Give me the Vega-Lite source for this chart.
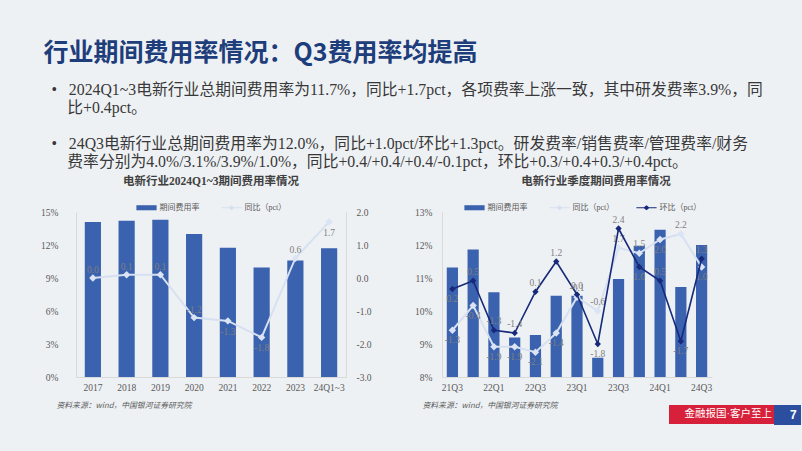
{
  "$schema": "https://vega.github.io/schema/vega-lite/v6.json",
  "background": "#eef1f4",
  "padding": {"left": 40, "top": 41, "right": 10, "bottom": 30},
  "title": {
    "text": "行业期间费用率情况：Q3费用率均提高",
    "subtitle": [
      "\u200b\u00a0\u00a0•\u00a0\u00a0\u00a02024Q1~3电新行业总期间费用率为11.7%，同比+1.7pct，各项费率上涨一致，其中研发费率3.9%，同",
      "\u200b\u00a0\u00a0\u00a0\u00a0\u00a0\u00a0比+0.4pct。",
      "\u200b",
      "\u200b\u00a0\u00a0•\u00a0\u00a0\u00a024Q3电新行业总期间费用率为12.0%，同比+1.0pct/环比+1.3pct。研发费率/销售费率/管理费率/财务",
      "\u200b\u00a0\u00a0\u00a0\u00a0\u00a0\u00a0费率分别为4.0%/3.1%/3.9%/1.0%，同比+0.4/+0.4/+0.4/-0.1pct，环比+0.3/+0.4+0.3/+0.4pct。"
    ],
    "anchor": "start",
    "dx": 3,
    "font": "Noto Sans CJK SC",
    "fontSize": 25,
    "fontWeight": "bold",
    "color": "#1e3d7b",
    "subtitleFont": "Liberation Serif, Noto Sans CJK SC",
    "subtitleFontSize": 15.8,
    "subtitleColor": "#383838",
    "subtitleLineHeight": 18,
    "subtitlePadding": 16.5,
    "offset": 6
  },
  "spacing": 42,
  "resolve": {"scale": {"color": "independent", "shape": "independent", "fill": "independent", "stroke": "independent"}},
  "hconcat": [
    {
      "width": 270,
      "height": 165,
      "title": {"text": "电新行业2024Q1~3期间费用率情况", "font": "Liberation Serif, Noto Sans CJK SC", "fontSize": 11.5, "fontWeight": "bold", "color": "#404040", "offset": 14},
      "data": {"values": [
        {"year": "2017", "rate": 14.1, "yoy": 0.0},
        {"year": "2018", "rate": 14.2, "yoy": 0.1},
        {"year": "2019", "rate": 14.3, "yoy": 0.1},
        {"year": "2020", "rate": 13.0, "yoy": -1.2},
        {"year": "2021", "rate": 11.75, "yoy": -1.3},
        {"year": "2022", "rate": 9.95, "yoy": -1.8},
        {"year": "2023", "rate": 10.6, "yoy": 0.6},
        {"year": "24Q1~3", "rate": 11.7, "yoy": 1.7}
      ]},
      "encoding": {
        "x": {"field": "year", "type": "ordinal", "sort": null,
          "scale": {"paddingInner": 0.52, "paddingOuter": 0.26},
          "axis": {"title": "资料来源：wind，中国银河证券研究院", "titleFont": "Noto Sans CJK SC", "titleFontStyle": "italic", "titleFontWeight": "normal", "titleFontSize": 7.8, "titleColor": "#595959", "titleAnchor": "start", "titleAlign": "left", "titleX": -20, "titleY": 28, "titleBaseline": "middle", "labelAngle": 0, "labelPadding": 5}}
      },
      "layer": [
        {
          "mark": {"type": "bar", "color": "#3a62ae"},
          "encoding": {
            "y": {"field": "rate", "type": "quantitative", "scale": {"domain": [0, 15]},
              "axis": {"title": null, "values": [0, 3, 6, 9, 12, 15], "labelExpr": "datum.value + '%'", "labelPadding": 18, "orient": "left"}}
          }
        },
        {
          "encoding": {
            "y": {"field": "yoy", "type": "quantitative", "scale": {"domain": [-3, 2]},
              "axis": {"title": null, "orient": "right", "values": [-3, -2, -1, 0, 1, 2], "format": ".1f", "labelPadding": 10}}
          },
          "layer": [
            {"mark": {"type": "line", "color": "#d6e0f1", "strokeWidth": 2}},
            {"mark": {"type": "point", "shape": "diamond", "filled": true, "color": "#dbe4f4", "size": 55, "opacity": 1}},
            {"transform": [{"filter": {"field": "year", "oneOf": ["2017", "2018", "2019", "2020", "2023"]}}],
              "mark": {"type": "text", "dy": -8, "fontSize": 9.5, "color": "#808080", "font": "Liberation Serif"},
              "encoding": {"text": {"field": "yoy", "type": "quantitative", "format": ".1f"}}},
            {"transform": [{"filter": {"field": "year", "oneOf": ["2021", "2022", "24Q1~3"]}}],
              "mark": {"type": "text", "dy": 11, "fontSize": 9.5, "color": "#808080", "font": "Liberation Serif"},
              "encoding": {"text": {"field": "yoy", "type": "quantitative", "format": ".1f"}}},
            {"mark": {"type": "point", "filled": true, "opacity": 0},
              "encoding": {
                "color": {"datum": "期间费用率", "type": "nominal",
                  "scale": {"domain": ["期间费用率", "同比（pct）"], "range": ["#3a62ae", "#d6e0f1"]},
                  "legend": {"title": null, "orient": "none", "legendX": 64, "legendY": -11, "direction": "horizontal", "symbolSize": 160, "labelOffset": 6.5, "columnPadding": 21, "symbolOpacity": 1, "symbolStrokeWidth": 0}},
                "shape": {"datum": "期间费用率", "type": "nominal",
                  "scale": {"domain": ["期间费用率", "同比（pct）"], "range": ["M-1.6,-0.4H1.6V0.4H-1.6Z", "M-1.6,-0.08H-0.4L0,-0.4L0.4,-0.08H1.6V0.08H0.4L0,0.4L-0.4,0.08H-1.6Z"]},
                  "legend": {"title": null, "orient": "none", "legendX": 64, "legendY": -11, "direction": "horizontal", "symbolSize": 160, "labelOffset": 6.5, "columnPadding": 21, "symbolOpacity": 1, "symbolStrokeWidth": 0}}
              }}
          ]
        }
      ],
      "resolve": {"scale": {"y": "independent"}}
    },
    {
      "width": 270,
      "height": 165,
      "title": {"text": "电新行业季度期间费用率情况", "font": "Liberation Serif, Noto Sans CJK SC", "fontSize": 11.5, "fontWeight": "bold", "color": "#404040", "offset": 14, "dx": 19},
      "data": {"values": [
        {"q": "21Q3", "rate": 11.32, "yoy": -1.3, "qoq": 0.2},
        {"q": "21Q4", "rate": 11.86, "yoy": -0.4, "qoq": 0.5},
        {"q": "22Q1", "rate": 10.57, "yoy": -1.9, "qoq": -1.3},
        {"q": "22Q2", "rate": 9.2, "yoy": -1.9, "qoq": -1.4},
        {"q": "22Q3", "rate": 9.27, "yoy": -2.1, "qoq": 0.1},
        {"q": "22Q4", "rate": 10.46, "yoy": -1.4, "qoq": 1.2},
        {"q": "23Q1", "rate": 10.46, "yoy": -0.1, "qoq": 0.0},
        {"q": "23Q2", "rate": 8.58, "yoy": -0.6, "qoq": -1.8},
        {"q": "23Q3", "rate": 10.97, "yoy": 1.7, "qoq": 2.4},
        {"q": "23Q4", "rate": 11.98, "yoy": 1.5, "qoq": 1.0},
        {"q": "24Q1", "rate": 12.46, "yoy": 2.0, "qoq": 0.5},
        {"q": "24Q2", "rate": 10.73, "yoy": 2.2, "qoq": -1.7},
        {"q": "24Q3", "rate": 12.0, "yoy": 1.0, "qoq": 1.3}
      ]},
      "encoding": {
        "x": {"field": "q", "type": "ordinal", "sort": null,
          "scale": {"paddingInner": 0.46, "paddingOuter": 0.23},
          "axis": {"title": "资料来源：wind，中国银河证券研究院", "titleFont": "Noto Sans CJK SC", "titleFontStyle": "italic", "titleFontWeight": "normal", "titleFontSize": 7.8, "titleColor": "#595959", "titleAnchor": "start", "titleAlign": "left", "titleX": -20, "titleY": 28, "titleBaseline": "middle", "labelAngle": 0, "labelPadding": 5,
            "values": ["21Q3", "22Q1", "22Q3", "23Q1", "23Q3", "24Q1", "24Q3"]}}
      },
      "layer": [
        {
          "mark": {"type": "bar", "color": "#3a62ae", "clip": true},
          "encoding": {
            "y": {"field": "rate", "type": "quantitative", "scale": {"domain": [8, 13], "zero": false},
              "axis": {"title": null, "values": [8, 9, 10, 11, 12, 13], "labelExpr": "datum.value + '%'", "labelPadding": 10, "orient": "left"}}
          }
        },
        {
          "layer": [
            {"mark": {"type": "line", "color": "#d6e0f1", "strokeWidth": 2},
              "encoding": {"y": {"field": "yoy", "type": "quantitative", "scale": {"domain": [-3, 3]},
                "axis": {"title": null, "orient": "right", "values": [-3, -1.8, -0.6, 0.6, 1.8, 3], "format": ".1f", "labelPadding": 9}}}},
            {"mark": {"type": "point", "shape": "diamond", "filled": true, "color": "#dbe4f4", "size": 55, "opacity": 1},
              "encoding": {"y": {"field": "yoy", "type": "quantitative", "axis": null}}},
            {"transform": [{"filter": {"field": "q", "oneOf": ["23Q1", "23Q2", "23Q3", "23Q4", "24Q2"]}}],
              "mark": {"type": "text", "dy": -9, "fontSize": 9.5, "color": "#808080", "font": "Liberation Serif"},
              "encoding": {"y": {"field": "yoy", "type": "quantitative", "axis": null}, "text": {"field": "yoy", "type": "quantitative", "format": ".1f"}}},
            {"transform": [{"filter": {"field": "q", "oneOf": ["21Q3", "21Q4", "22Q1", "22Q2", "22Q3", "22Q4", "24Q1", "24Q3"]}}],
              "mark": {"type": "text", "dy": 10, "fontSize": 9.5, "color": "#808080", "font": "Liberation Serif"},
              "encoding": {"y": {"field": "yoy", "type": "quantitative", "axis": null}, "text": {"field": "yoy", "type": "quantitative", "format": ".1f"}}},
            {"mark": {"type": "line", "color": "#16297a", "strokeWidth": 1.6},
              "encoding": {"y": {"field": "qoq", "type": "quantitative", "axis": null}}},
            {"mark": {"type": "point", "shape": "diamond", "filled": true, "color": "#16297a", "size": 40, "opacity": 1},
              "encoding": {"y": {"field": "qoq", "type": "quantitative", "axis": null}}},
            {"transform": [{"filter": {"field": "q", "oneOf": ["21Q4", "22Q1", "22Q2", "22Q3", "22Q4", "23Q1", "23Q3", "24Q1", "24Q3"]}}],
              "mark": {"type": "text", "dy": -9, "fontSize": 9.5, "color": "#808080", "font": "Liberation Serif"},
              "encoding": {"y": {"field": "qoq", "type": "quantitative", "axis": null}, "text": {"field": "qoq", "type": "quantitative", "format": ".1f"}}},
            {"transform": [{"filter": {"field": "q", "oneOf": ["21Q3", "23Q2", "23Q4", "24Q2"]}}],
              "mark": {"type": "text", "dy": 10, "fontSize": 9.5, "color": "#808080", "font": "Liberation Serif"},
              "encoding": {"y": {"field": "qoq", "type": "quantitative", "axis": null}, "text": {"field": "qoq", "type": "quantitative", "format": ".1f"}}},
            {"mark": {"type": "point", "filled": true, "opacity": 0},
              "encoding": {
                "y": {"field": "yoy", "type": "quantitative", "axis": null},
                "color": {"datum": "期间费用率", "type": "nominal",
                  "scale": {"domain": ["期间费用率", "同比（pct）", "环比（pct）"], "range": ["#3a62ae", "#d6e0f1", "#16297a"]},
                  "legend": {"title": null, "orient": "none", "legendX": 26, "legendY": -11, "direction": "horizontal", "symbolSize": 160, "labelOffset": 6.5, "columnPadding": 21, "symbolOpacity": 1, "symbolStrokeWidth": 0}},
                "shape": {"datum": "期间费用率", "type": "nominal",
                  "scale": {"domain": ["期间费用率", "同比（pct）", "环比（pct）"], "range": ["M-1.6,-0.4H1.6V0.4H-1.6Z", "M-1.6,-0.08H-0.4L0,-0.4L0.4,-0.08H1.6V0.08H0.4L0,0.4L-0.4,0.08H-1.6Z", "M-1.6,-0.08H-0.4L0,-0.4L0.4,-0.08H1.6V0.08H0.4L0,0.4L-0.4,0.08H-1.6Z"]},
                  "legend": {"title": null, "orient": "none", "legendX": 26, "legendY": -11, "direction": "horizontal", "symbolSize": 160, "labelOffset": 6.5, "columnPadding": 21, "symbolOpacity": 1, "symbolStrokeWidth": 0}}
              }},
            {"mark": {"type": "point", "opacity": 0},
              "encoding": {
                "y": {"field": "yoy", "type": "quantitative", "axis": null},
                "fill": {"datum": "金融报国·客户至上", "type": "nominal",
                  "scale": {"domain": ["金融报国·客户至上"], "range": ["#d7213b"]},
                  "legend": {"title": null, "orient": "none", "legendX": 227, "legendY": 193, "fillColor": "#d7213b", "padding": 4, "symbolSize": 1, "symbolOpacity": 0, "labelOffset": 1, "labelColor": "#ffffff", "labelFont": "Liberation Sans, Noto Sans CJK SC", "labelFontSize": 10.5, "labelLimit": 300}}
              }},
            {"mark": {"type": "point", "opacity": 0},
              "encoding": {
                "y": {"field": "yoy", "type": "quantitative", "axis": null},
                "stroke": {"datum": "7", "type": "nominal",
                  "scale": {"domain": ["7"], "range": ["#2b4e9e"]},
                  "legend": {"title": null, "orient": "none", "legendX": 332, "legendY": 193, "fillColor": "#2b4e9e", "padding": 4, "symbolSize": 1, "symbolOpacity": 0, "symbolStrokeWidth": 0, "labelOffset": 0, "labelColor": "#ffffff", "labelFont": "Liberation Sans", "labelFontWeight": "bold", "labelFontSize": 12}}
              }}
          ]
        }
      ],
      "resolve": {"scale": {"y": "independent"}}
    }
  ],
  "config": {
    "view": {"stroke": null},
    "locale": {"number": {"decimal": ".", "thousands": ",", "grouping": [3], "currency": ["", ""], "minus": "-"}},
    "axis": {"grid": false, "ticks": false, "domainColor": "#d9d9d9", "labelColor": "#595959", "labelFont": "Liberation Serif", "labelFontSize": 9.5},
    "legend": {"labelFont": "Liberation Serif, Noto Sans CJK SC", "labelFontSize": 8, "labelColor": "#595959"}
  }
}
